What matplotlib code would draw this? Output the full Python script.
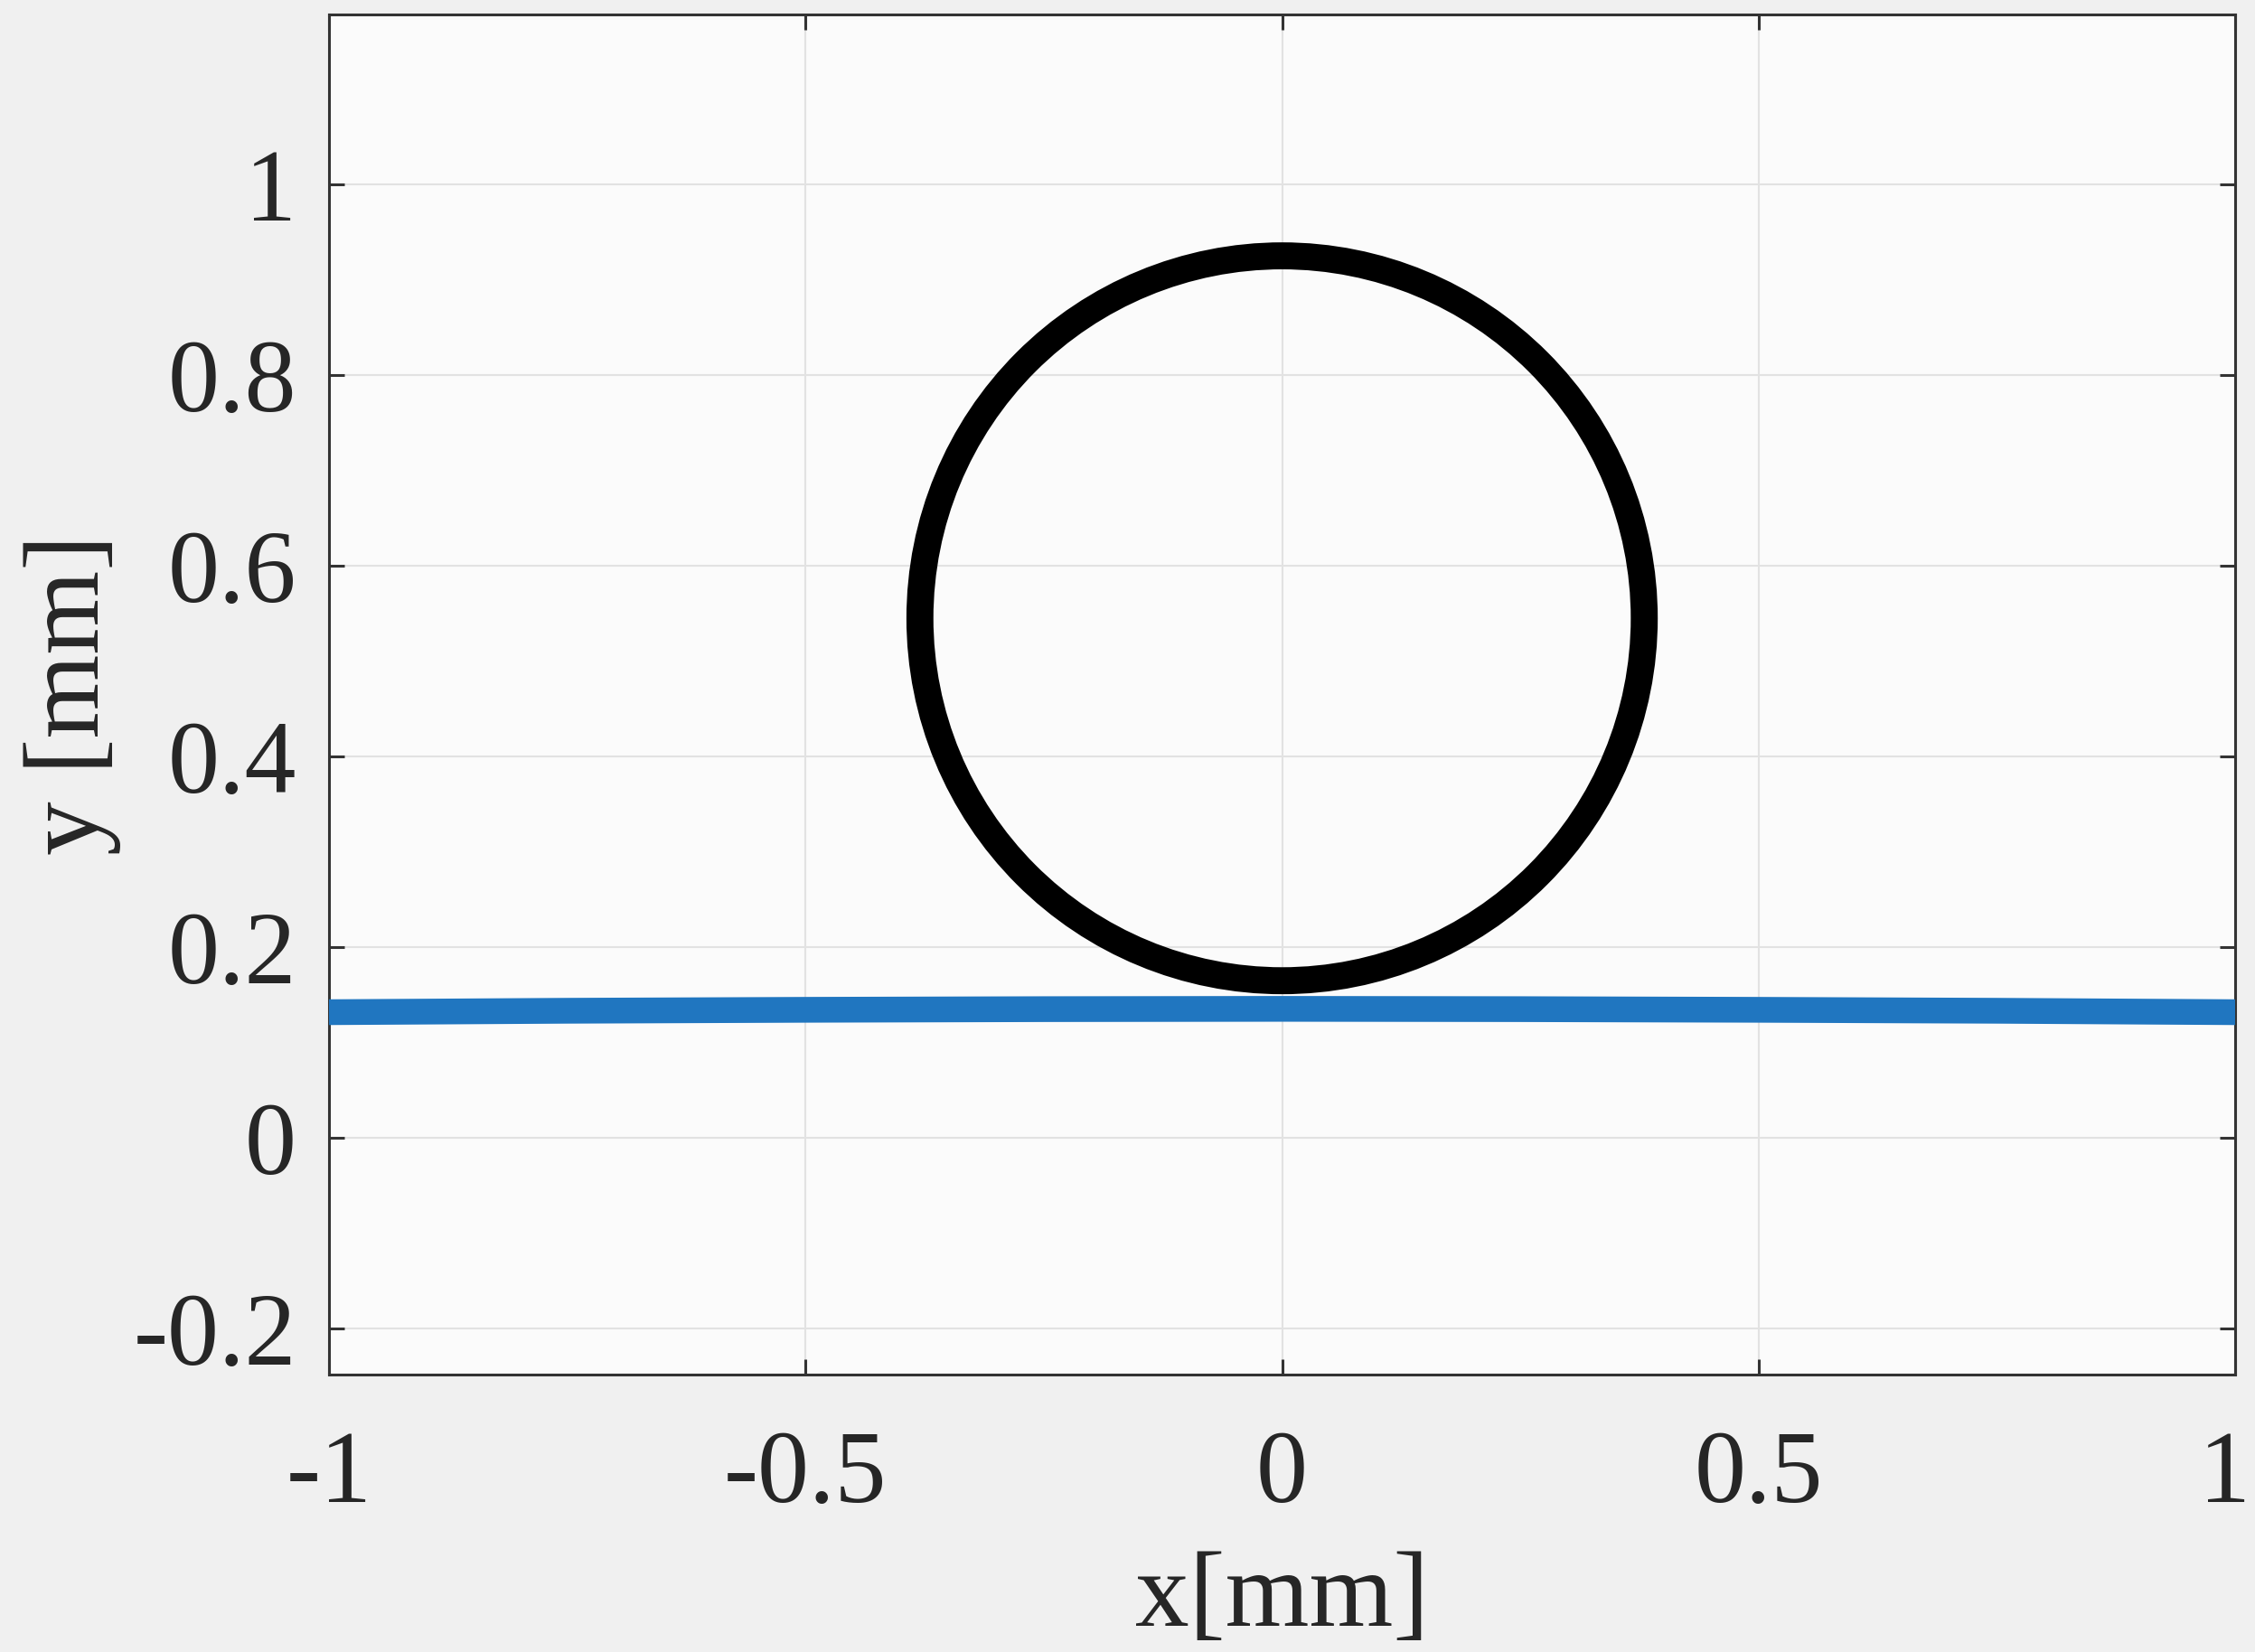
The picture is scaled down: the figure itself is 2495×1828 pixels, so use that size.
import matplotlib
matplotlib.use("Agg")
import matplotlib.pyplot as plt
from matplotlib.patches import Circle
from matplotlib.transforms import ScaledTranslation

# Particle outline (circle) in mm
particle_center = (0.0, 0.545)
particle_radius = 0.38

# Interface profile in mm
surface_x = [-1.0, -0.75, -0.5, -0.25, 0.0, 0.25, 0.5, 0.75, 1.0]
surface_y = [0.132, 0.1335, 0.1345, 0.1352, 0.1355, 0.1352, 0.1345, 0.1335, 0.132]

x_ticks = [-1, -0.5, 0, 0.5, 1]
x_tick_labels = ["-1", "-0.5", "0", "0.5", "1"]
y_ticks = [-0.2, 0, 0.2, 0.4, 0.6, 0.8, 1]
y_tick_labels = ["-0.2", "0", "0.2", "0.4", "0.6", "0.8", "1"]

plt.rcParams["font.family"] = ["Liberation Serif", "DejaVu Serif"]

text_color = "#262626"
fig = plt.figure(figsize=(24.95, 18.28), dpi=100, facecolor="#f0f0f0")
ax = fig.add_axes([0.1459, 0.1679, 0.8453, 0.8233])
ax.set_facecolor("#fbfbfb")

ax.plot(surface_x, surface_y, color="#2076c0", linewidth=20.5,
        solid_capstyle="butt", zorder=3)
ax.add_patch(Circle(particle_center, particle_radius, fill=False,
                    edgecolor="black", linewidth=21.5, zorder=4))

ax.set_xlim(-1, 1)
ax.set_ylim(-0.248, 1.178)

ax.set_xticks(x_ticks)
ax.set_xticklabels(x_tick_labels)
ax.set_yticks(y_ticks)
ax.set_yticklabels(y_tick_labels)

ax.grid(True, color="#e2e2e2", linewidth=1.5, zorder=0)
ax.set_axisbelow(True)

for side in ax.spines.values():
    side.set_color("#333333")
    side.set_linewidth(2.2)

ax.tick_params(axis="both", which="major", direction="in", length=12.5,
               width=2.2, color="#333333", labelcolor=text_color,
               labelsize=82, top=True, right=True)
ax.tick_params(axis="x", pad=44)
ax.tick_params(axis="y", pad=26)

# keep the rightmost x label inside the figure edge
last = ax.get_xticklabels()[-1]
last.set_transform(last.get_transform() + ScaledTranslation(-0.12, 0, fig.dpi_scale_trans))

ax.set_xlabel("x[mm]", fontsize=86, color=text_color, labelpad=22)
ax.set_ylabel("y [mm]", fontsize=86, color=text_color, labelpad=10)

fig.savefig("out.png", dpi=100, facecolor=fig.get_facecolor())
